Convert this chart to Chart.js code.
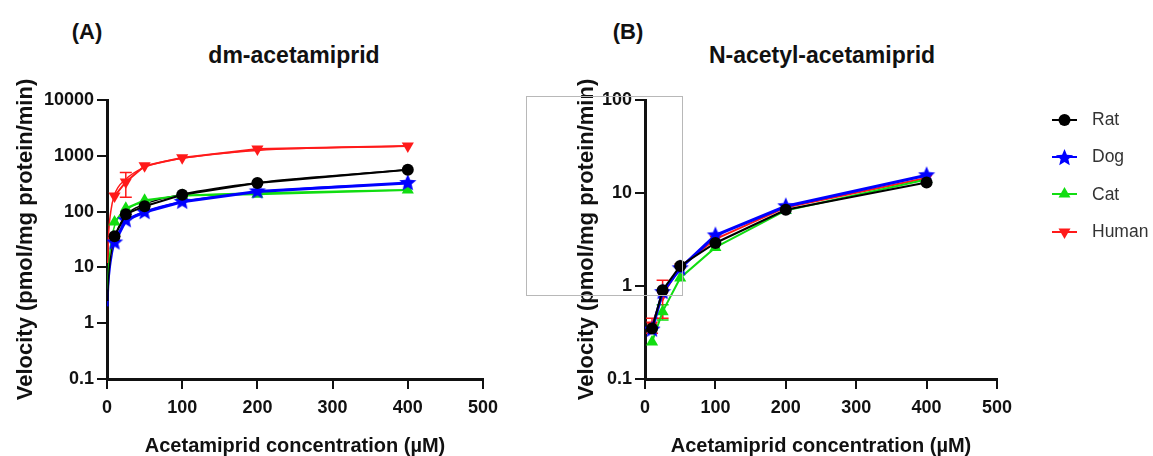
<!DOCTYPE html>
<html>
<head>
<meta charset="utf-8">
<script src="https://cdn.jsdelivr.net/npm/chart.js@4/dist/chart.umd.min.js"></script>
<style>
  body { margin: 0; background: #fff; width: 1153px; height: 456px; position: relative; overflow: hidden;
         font-family: "Liberation Sans", Arial, sans-serif; }
  #wrapA { position: absolute; left: 0; top: 0; }
  #wrapB { position: absolute; left: 560px; top: 0; }
  .lbl { position: absolute; font-weight: bold; font-size: 22px; color: #111; transform: translate(-50%, -50%); white-space: nowrap; }
  .ttl { font-size: 23px; }
  #box { position: absolute; left: 526px; top: 96px; width: 155px; height: 198px; border: 1px solid #b8b8b8; }
  #legend { position: absolute; left: 1050px; top: 101px; }
  .item { height: 37.3px; display: flex; align-items: center; font-size: 17.5px; color: #333; }
  .item canvas { margin-right: 2px; }
</style>
</head>
<body>
<div class="lbl" style="left:87px;top:32px">(A)</div>
<div class="lbl ttl" style="left:294px;top:55px">dm-acetamiprid</div>
<div class="lbl" style="left:628px;top:32px">(B)</div>
<div class="lbl ttl" style="left:822px;top:55px">N-acetyl-acetamiprid</div>

<div id="wrapA"><canvas id="chartA" width="520" height="456"></canvas></div>
<div id="wrapB"><canvas id="chartB" width="480" height="456"></canvas></div>
<div id="box"></div>
<div id="legend"></div>

<script>
// concentrations (µM)
const conc = [10, 25, 50, 100, 200, 400];
const xTicks = [0, 100, 200, 300, 400, 500];
const yTicksA = [0.1, 1, 10, 100, 1000, 10000];
const yTicksB = [0.1, 1, 10, 100];

const species = ['Rat', 'Dog', 'Cat', 'Human'];
const colors = ['#000000', '#0000ff', '#11dd11', '#ff1a1a'];

// (A) dm-acetamiprid, pmol/mg protein/min
const ratA = [36, 90, 125, 200, 325, 560];
const dogA = [28, 70, 98, 150, 230, 325];
const catA = [65, 115, 160, 195, 205, 245];
const humanA = [190, 340, 660, 920, 1320, 1500];
const humanErrA = [0, 160, 0, 0, 0, 0];

// (A) fitted curves
const xFit = [1, 2, 5, 10, 25, 50, 100, 200, 400];
const ratFitA = [2.5, 6, 16, 34, 85, 135, 205, 330, 560];
const dogFitA = [2, 4.5, 12, 27, 65, 100, 150, 225, 325];
const catFitA = [4, 9, 25, 55, 105, 150, 190, 215, 245];
const humanFitA = [12, 35, 100, 200, 380, 620, 900, 1250, 1500];

// (B) N-acetyl-acetamiprid
const ratB = [0.35, 0.9, 1.64, 2.9, 6.6, 13];
const dogB = [0.34, 0.86, 1.55, 3.5, 7.2, 15.5];
const catB = [0.25, 0.53, 1.22, 2.6, 6.5, 14];
const humanB = [0.38, 0.8, 1.6, 3.2, 7.0, 14.5];
const humanErrB = [0.07, 0.35, 0, 0, 0, 0];
const catErrB = [0, 0.1, 0, 0, 0, 0];

Chart.defaults.font.family = '"Liberation Sans", Arial, sans-serif';

function drawStar(g, cx, cy, r, color) {
  g.beginPath();
  for (let i = 0; i < 10; i++) {
    const rad = i % 2 ? r * 0.45 : r;
    const a = -Math.PI / 2 + i * Math.PI / 5;
    g.lineTo(cx + rad * Math.cos(a), cy + rad * Math.sin(a));
  }
  g.closePath();
  g.fillStyle = color;
  g.fill();
}

function makeStar(color, r) {
  const c = document.createElement('canvas');
  c.width = c.height = r * 2 + 2;
  drawStar(c.getContext('2d'), r + 1, r + 1, r, color);
  return c;
}

const starImg = makeStar(colors[1], 9);

function toXY(xs, ys) {
  return xs.map((x, i) => ({ x: x, y: ys[i] }));
}

function series(i, ys, err, r) {
  const styles = ['circle', starImg, 'triangle', 'triangle'];
  return {
    label: species[i],
    data: toXY(conc, ys),
    err: err,
    borderColor: colors[i],
    backgroundColor: colors[i],
    borderWidth: i === 1 ? 3 : 2,
    pointStyle: styles[i],
    pointRotation: i === 3 ? 180 : 0,
    pointRadius: i === 0 ? r : 7,
    pointBorderWidth: 0,
    tension: 0
  };
}

function fit(i, ys) {
  return {
    label: species[i] + ' fit',
    data: toXY(xFit, ys),
    borderColor: colors[i],
    borderWidth: 1.5,
    pointRadius: 0,
    cubicInterpolationMode: 'monotone'
  };
}

const errorBars = {
  id: 'errorBars',
  beforeDatasetsDraw(chart) {
    const g = chart.ctx;
    const yScale = chart.scales.y;
    chart.data.datasets.forEach((ds, i) => {
      if (!ds.err) return;
      const meta = chart.getDatasetMeta(i);
      ds.err.forEach((e, j) => {
        if (!e) return;
        const v = ds.data[j].y;
        const x = meta.data[j].x;
        const top = yScale.getPixelForValue(v + e);
        const bot = yScale.getPixelForValue(v - e);
        g.save();
        g.strokeStyle = ds.borderColor;
        g.lineWidth = 1.5;
        g.beginPath();
        g.moveTo(x, top); g.lineTo(x, bot);
        g.moveTo(x - 6, top); g.lineTo(x + 6, top);
        g.moveTo(x - 6, bot); g.lineTo(x + 6, bot);
        g.stroke();
        g.restore();
      });
    });
  }
};

function makeOptions(yTicks, axisW, titlePad, padRight) {
  return {
    responsive: false,
    animation: false,
    layout: { padding: { top: 100, right: padRight, left: 0, bottom: 0 } },
    plugins: { legend: { display: false }, tooltip: { enabled: false } },
    scales: {
      x: {
        type: 'linear', min: 0, max: 500,
        afterBuildTicks: s => { s.ticks = xTicks.map(v => ({ value: v })); },
        afterFit: s => { s.height = 77; },
        border: { color: '#111', width: 3 },
        grid: { drawOnChartArea: false, tickLength: 10, color: '#111', lineWidth: 2 },
        ticks: { color: '#111', font: { size: 18, weight: 'bold' }, padding: 8, maxRotation: 0 },
        title: { display: true, text: 'Acetamiprid concentration (µM)', color: '#111',
                 font: { size: 20, weight: 'bold' }, padding: { top: 0, bottom: -2 } }
      },
      y: {
        type: 'logarithmic', min: yTicks[0], max: yTicks[yTicks.length - 1],
        afterBuildTicks: s => { s.ticks = yTicks.map(v => ({ value: v })); },
        afterFit: s => { s.width = axisW; },
        border: { color: '#111', width: 3 },
        grid: { drawOnChartArea: false, tickLength: 10, color: '#111', lineWidth: 2 },
        ticks: { color: '#111', font: { size: 18, weight: 'bold' }, padding: 3, callback: v => String(v) },
        title: { display: true, text: 'Velocity (pmol/mg protein/min)', color: '#111',
                 font: { size: 22, weight: 'bold' }, padding: { top: titlePad, bottom: 0 } }
      }
    }
  };
}

new Chart(document.getElementById('chartA'), {
  type: 'line',
  data: {
    datasets: [
      series(0, ratA, null, 6),
      series(1, dogA, null, 6),
      series(2, catA, null, 6),
      series(3, humanA, humanErrA, 6),
      fit(0, ratFitA), fit(1, dogFitA), fit(2, catFitA), fit(3, humanFitA)
    ]
  },
  options: makeOptions(yTicksA, 107, 13, 37),
  plugins: [errorBars]
});

new Chart(document.getElementById('chartB'), {
  type: 'line',
  data: {
    datasets: [
      series(0, ratB, null, 6),
      series(1, dogB, null, 6),
      series(2, catB, catErrB, 6),
      series(3, humanB, humanErrB, 6)
    ]
  },
  options: makeOptions(yTicksB, 85, 14, 43),
  plugins: [errorBars]
});

// legend: line with marker
const legend = document.getElementById('legend');
species.forEach((name, i) => {
  const item = document.createElement('div');
  item.className = 'item';
  const c = document.createElement('canvas');
  c.width = 40; c.height = 24;
  const g = c.getContext('2d');
  g.strokeStyle = colors[i];
  g.lineWidth = 2;
  g.beginPath(); g.moveTo(2, 12); g.lineTo(27, 12); g.stroke();
  g.fillStyle = colors[i];
  const cx = 14.5, cy = 12;
  if (i === 0) {
    g.beginPath(); g.arc(cx, cy, 6, 0, Math.PI * 2); g.fill();
  } else if (i === 1) {
    drawStar(g, cx, cy + 1, 9, colors[i]);
  } else {
    const s = i === 2 ? -1 : 1;
    g.beginPath();
    g.moveTo(cx, cy + s * 7);
    g.lineTo(cx + 6, cy - s * 3.5);
    g.lineTo(cx - 6, cy - s * 3.5);
    g.closePath(); g.fill();
  }
  item.appendChild(c);
  const t = document.createElement('span');
  t.textContent = name;
  item.appendChild(t);
  legend.appendChild(item);
});
</script>
</body>
</html>
